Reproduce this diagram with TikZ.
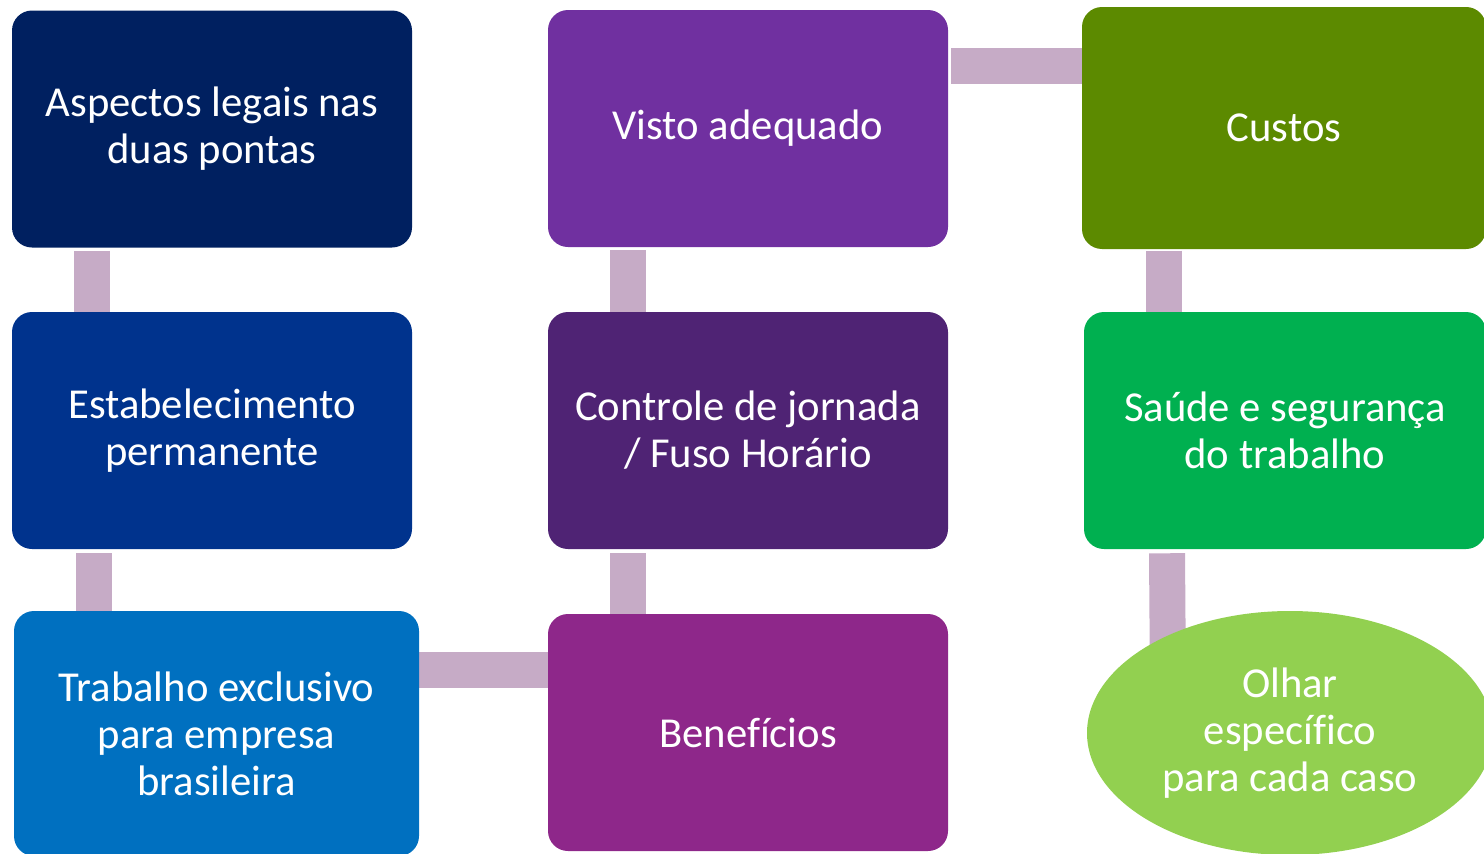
\documentclass[tikz,border=0pt]{standalone}
\usepackage{fontspec}
\setmainfont{Carlito}[Ligatures=NoCommon]
\usetikzlibrary{shapes.geometric,backgrounds}
\definecolor{cA}{HTML}{002060}
\definecolor{cB}{HTML}{00338D}
\definecolor{cC}{HTML}{0070C0}
\definecolor{cD}{HTML}{7030A0}
\definecolor{cE}{HTML}{4F2374}
\definecolor{cF}{HTML}{8E278A}
\definecolor{cG}{HTML}{5C8A00}
\definecolor{cH}{HTML}{00B050}
\definecolor{cI}{HTML}{92D050}
\definecolor{cConn}{HTML}{C6ABC6}
\tikzset{
  boxstyle/.style={rounded corners=15pt, minimum width=300pt, minimum height=177.75pt,
    inner sep=0pt, text=white, align=center,
    font=\fontsize{32pt}{35.25pt}\selectfont},
  ellstyle/.style={ellipse, minimum width=304.5pt, minimum height=183pt, inner sep=0pt,
    text=white, align=center, font=\fontsize{32pt}{35.25pt}\selectfont},
  conn/.style={draw=cConn, line width=27pt, line cap=butt}
}
\begin{document}
\begin{tikzpicture}[x=0.75pt,y=-0.75pt]
\useasboundingbox (0,0) rectangle (1484,853);
\clip (0,0) rectangle (1484,853);
\node[boxstyle, fill=cA] (a) at (212,129) {Aspectos legais nas\\duas pontas};
\node[boxstyle, fill=cB] (b) at (212,430.5) {Estabelecimento\\permanente};
\node[boxstyle, fill=cC, minimum width=303.75pt, minimum height=183.75pt] (c) at (216.5,733.5) {Trabalho exclusivo\\para empresa\\brasileira};
\node[boxstyle, fill=cD] (d) at (748,128.5) {Visto adequado};
\node[boxstyle, fill=cE] (e) at (748,430.5) {Controle de jornada\\/ Fuso Horário};
\node[boxstyle, fill=cF] (f) at (748,732.5) {Benefícios};
\node[boxstyle, fill=cG, minimum width=303pt, minimum height=181.5pt] (g) at (1284,128) {Custos};
\node[boxstyle, fill=cH, minimum width=301.5pt] (h) at (1285,430.5) {Saúde e segurança\\do trabalho};
\node[ellstyle, fill=cI] (i) at (1290,733) {Olhar\\específico\\para cada caso};
\begin{scope}[on background layer]
\draw[conn] ([xshift=-90pt,yshift=-2.25pt]a.south) -- ([xshift=-90pt,yshift=-2.25pt]a.south |- b.north) ;
\draw[conn] ([xshift=-88.5pt,yshift=-3pt]b.south) -- ([xshift=-88.5pt,yshift=-3pt]b.south |- c.north);
\draw[conn] ([yshift=47.6pt]c.east) -- ([yshift=47.6pt]c.east -| f.west);
\draw[conn] ([xshift=-90pt,yshift=-3pt]e.south) -- ([xshift=-90pt]e.south |- f.north);
\draw[conn] ([xshift=-90pt,yshift=-2.25pt]d.south) -- ([xshift=-90pt,yshift=-2.25pt]d.south |- e.north);
\draw[conn] ([xshift=2.25pt,yshift=46.9pt]d.east) -- ([yshift=46.9pt]d.east -| g.west);
\draw[conn] ([xshift=-90pt,yshift=-1pt]g.south) -- ([xshift=-90pt,yshift=-2.25pt]g.south |- h.north);
\draw[conn] ([xshift=-88.5pt,yshift=-3pt]h.south) -- ([xshift=-87.5pt]h.south |- i.center);
\end{scope}
\end{tikzpicture}
\end{document}
